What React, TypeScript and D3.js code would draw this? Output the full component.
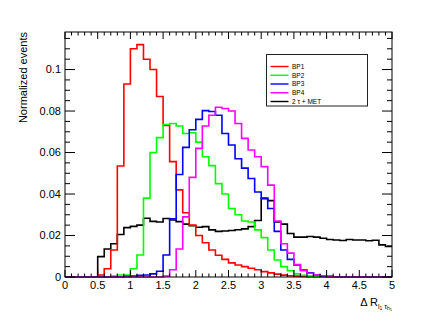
import React from 'react'
import * as d3 from 'd3'

// histogram contents, 50 bins of 0.1 from 0 to 5
const binWidth = 0.1
const bp1 = [
  0, 0, 0, 0, 0, 0.001, 0.004, 0.013, 0.0535, 0.093,
  0.11, 0.112, 0.105, 0.1, 0.087, 0.073, 0.0556, 0.042, 0.031, 0.025,
  0.02, 0.0165, 0.013, 0.0105, 0.0085, 0.0068, 0.0058, 0.005, 0.0042, 0.0035,
  0.0026, 0.002, 0.0014, 0.0009, 0.0006, 0.0004, 0.0003, 0.0002, 0.0001, 0,
  0, 0, 0, 0, 0, 0, 0, 0, 0, 0
]
const bp2 = [
  0, 0, 0, 0, 0, 0, 0, 0.0005, 0.001, 0.001,
  0.004, 0.0106, 0.038, 0.06, 0.0672, 0.0735, 0.074, 0.0728, 0.0692, 0.0695,
  0.065, 0.058, 0.0537, 0.045, 0.04, 0.033, 0.03, 0.027, 0.0265, 0.0227,
  0.019, 0.013, 0.0082, 0.005, 0.003, 0.0015, 0.0008, 0.0004, 0.0002, 0,
  0, 0, 0, 0, 0, 0, 0, 0, 0, 0
]
const bp3 = [
  0, 0, 0, 0, 0, 0, 0, 0, 0, 0.0003,
  0.0005, 0.0008, 0.001, 0.0015, 0.0028, 0.0106, 0.028, 0.0494, 0.0625, 0.071,
  0.076, 0.0802, 0.0798, 0.078, 0.0692, 0.0636, 0.057, 0.0525, 0.0475, 0.041,
  0.038, 0.033, 0.022, 0.013, 0.0085, 0.0058, 0.0034, 0.002, 0.001, 0.0005,
  0.0003, 0, 0, 0, 0, 0, 0, 0, 0, 0
]
const bp4 = [
  0, 0, 0, 0, 0, 0, 0, 0, 0, 0,
  0, 0, 0, 0, 0, 0.0005, 0.0035, 0.0135, 0.029, 0.048,
  0.062, 0.0728, 0.078, 0.0818, 0.0812, 0.08, 0.074, 0.0668, 0.0612, 0.058,
  0.0532, 0.0443, 0.027, 0.016, 0.0115, 0.006, 0.003, 0.0018, 0.001, 0.0006,
  0.0003, 0, 0, 0, 0, 0, 0, 0, 0, 0
]
const bkg = [
  0, 0, 0, 0, 0, 0.0098, 0.0135, 0.016, 0.0205, 0.0238,
  0.0244, 0.025, 0.0283, 0.0268, 0.0265, 0.0282, 0.0275, 0.0267, 0.0255, 0.0247,
  0.024, 0.0243, 0.0227, 0.022, 0.0222, 0.0224, 0.0228, 0.0232, 0.0243, 0.0272,
  0.0378, 0.0368, 0.0265, 0.0255, 0.021, 0.0192, 0.0192, 0.0195, 0.0192, 0.0187,
  0.0181, 0.0178, 0.0176, 0.0181, 0.0178, 0.0178, 0.0175, 0.0177, 0.0155, 0.0147
]

const xTickLabels = ['0', '0.5', '1', '1.5', '2', '2.5', '3', '3.5', '4', '4.5', '5']
const yTickLabels = ['0', '0.02', '0.04', '0.06', '0.08', '0.1']

const series = [
  { name: '2 τ + MET', color: '#000000', values: bkg },
  { name: 'BP1', color: '#ff0000', values: bp1 },
  { name: 'BP2', color: '#00ff00', values: bp2 },
  { name: 'BP3', color: '#0000ff', values: bp3 },
  { name: 'BP4', color: '#ff00ff', values: bp4 }
]
const legendOrder = ['BP1', 'BP2', 'BP3', 'BP4', '2 τ + MET']

const width = 436
const height = 327
const frame = { left: 65, right: 392, top: 32, bottom: 277 }
const font = 'Liberation Sans, Arial, Helvetica, sans-serif'

const App = () => {
  const x = d3.scaleLinear().domain([0, 5]).range([frame.left, frame.right])
  const y = d3.scaleLinear().domain([0, 0.1181]).range([frame.bottom, frame.top])

  const line = d3
    .line<[number, number]>()
    .x((d) => x(d[0]))
    .y((d) => y(d[1]))
    .curve(d3.curveStepAfter)

  const makePath = (values: number[]) => {
    const pts: [number, number][] = values.map((v, i) => [i * binWidth, v])
    pts.push([values.length * binWidth, values[values.length - 1]])
    return line(pts) || ''
  }

  const xMinor = d3.range(0, 50.5).map((i) => i * 0.1)
  const xMajor = xTickLabels.map((t) => +t)
  const yMinor = d3.range(0, 24).map((i) => i * 0.005).filter((v) => v <= 0.118)
  const yMajor = yTickLabels.map((t) => +t)

  const legend = { x: 266.5, y: 54.5, w: 101, h: 51.5 }

  return (
    <svg
      width={width}
      height={height}
      style={{ position: 'absolute', left: 0, top: 0, background: '#fff' }}
      fontFamily={font}
    >
      <rect x={0} y={0} width={width} height={height} fill="#fff" />

      {/* histograms */}
      <g fill="none" strokeWidth={1.6} strokeLinejoin="miter">
        {series.map((s) => (
          <path key={s.name} d={makePath(s.values)} stroke={s.color} />
        ))}
      </g>

      {/* frame */}
      <rect
        x={frame.left}
        y={frame.top}
        width={frame.right - frame.left}
        height={frame.bottom - frame.top}
        fill="none"
        stroke="#000"
        strokeWidth={1}
      />

      {/* x ticks, bottom and top */}
      <g stroke="#000" strokeWidth={1}>
        {xMinor.map((v, i) => {
          const len = xMajor.some((m) => Math.abs(m - v) < 1e-6) ? 7 : 3.5
          return (
            <g key={'xt' + i}>
              <line x1={x(v)} x2={x(v)} y1={frame.bottom} y2={frame.bottom - len} />
              <line x1={x(v)} x2={x(v)} y1={frame.top} y2={frame.top + len} />
            </g>
          )
        })}
        {yMinor.map((v, i) => {
          const len = yMajor.some((m) => Math.abs(m - v) < 1e-6) ? 10 : 5
          return (
            <g key={'yt' + i}>
              <line x1={frame.left} x2={frame.left + len} y1={y(v)} y2={y(v)} />
              <line x1={frame.right} x2={frame.right - len} y1={y(v)} y2={y(v)} />
            </g>
          )
        })}
      </g>

      {/* tick labels */}
      <g fontSize={11} fill="#000">
        {xTickLabels.map((t) => (
          <text key={'xl' + t} x={x(+t)} y={289} textAnchor="middle">
            {t}
          </text>
        ))}
        {yTickLabels.map((t) => (
          <text key={'yl' + t} x={61} y={y(+t)} dy="0.35em" textAnchor="end">
            {t}
          </text>
        ))}
      </g>

      {/* axis titles */}
      <text
        transform={`translate(27, ${frame.top}) rotate(-90)`}
        textAnchor="end"
        fontSize={11}
        fill="#000"
      >
        Normalized events
      </text>
      <text x={frame.right} y={306} textAnchor="end" fontSize={11} fill="#000">
        Δ R
        <tspan fontSize={7} dy={3}>l</tspan>
        <tspan fontSize={5} dy={1}>1</tspan>
        <tspan fontSize={7} dy={-1}> τ</tspan>
        <tspan fontSize={5} dy={1}>h</tspan>
        <tspan fontSize={4} dy={1}>1</tspan>
      </text>

      {/* legend */}
      <rect
        x={legend.x}
        y={legend.y}
        width={legend.w}
        height={legend.h}
        fill="#fff"
        stroke="#222"
        strokeWidth={1}
      />
      {legendOrder.map((name, i) => {
        const s = series.find((d) => d.name === name)!
        const ly = 66.5 + i * 8.75
        return (
          <g key={'lg' + name}>
            <line x1={270.5} x2={288.5} y1={ly} y2={ly} stroke={s.color} strokeWidth={1.4} />
            <text x={292} y={ly} dy="0.35em" fontSize={6.5} fill="#000">
              {name}
            </text>
          </g>
        )
      })}
    </svg>
  )
}

export default App
